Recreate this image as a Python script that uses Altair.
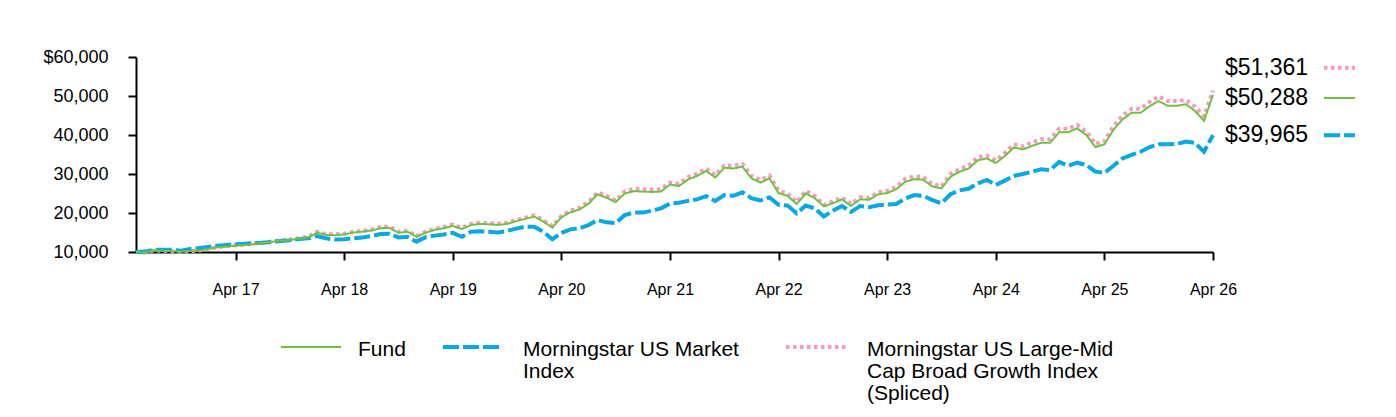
import altair as alt
import pandas as pd

# Growth of a $10,000 investment, month-end values from May 2016 to Apr 2026
fund = [
    10000, 9900, 10450, 10350, 10200, 10100, 10250, 10400, 10800, 11200,
    11400, 11600, 11800, 12000, 12300, 12600, 12900, 13100, 13400, 13700,
    14950, 14400, 14300, 14500, 15000, 15200, 15500, 16100, 16200, 14950,
    15200, 13900, 14950, 15700, 16100, 16700, 15900, 16900, 17200, 17100,
    16950, 17200, 17900, 18500, 19100, 17800, 16300, 18900, 20200, 20900,
    22400, 24800, 23900, 22800, 25000, 25600, 25500, 25400, 25500, 27300,
    26900, 28600, 29500, 30800, 29100, 31600, 31400, 31900, 28900, 27800,
    28900, 25100, 24400, 22300, 25000, 23800, 21700, 22500, 23500, 21800,
    23500, 23400, 24800, 25100, 26100, 28000, 28700, 28500, 26800, 26300,
    29300, 30600, 31400, 33500, 34000, 32800, 34600, 36800, 36300, 37200,
    38000, 38000, 40700, 40700, 41700, 40000, 36900, 37600, 41300, 44000,
    45700, 45700, 47400, 48700, 47500, 47500, 47900, 46200, 43600, 50288,
]

market = [
    10000, 10100, 10600, 10600, 10600, 10300, 10800, 11000, 11300, 11600,
    11800, 12000, 12100, 12300, 12400, 12600, 12800, 13000, 13300, 13500,
    14100, 13500, 13200, 13300, 13500, 13700, 14100, 14600, 14700, 13700,
    13900, 12650, 13800, 14200, 14500, 14900, 13900, 15200, 15300, 15200,
    15000, 15400, 16000, 16500, 16500, 15200, 13250, 14900, 15800, 16100,
    16900, 18200, 17600, 17400, 19500, 20100, 20100, 20600, 21200, 22400,
    22650, 23100, 23500, 24300, 23100, 24600, 24400, 25300, 23800, 23200,
    24000, 22100, 21900, 19900, 21900, 21200, 19100, 20600, 21800, 20300,
    21800, 21500, 22000, 22200, 22300, 23700, 24600, 24400, 23300, 22500,
    24800, 25800, 26200, 27600, 28500, 27200, 28300, 29500, 30000, 30600,
    31200, 31000, 33100, 32100, 32900, 32300, 30600, 30300, 32100, 34000,
    34900, 35700, 36900, 37600, 37600, 37700, 38300, 38000, 35700, 39965,
]

growth = [
    10000, 9850, 10400, 10300, 10150, 10050, 10200, 10400, 10800, 11250,
    11450, 11700, 11900, 12100, 12400, 12700, 13000, 13200, 13500, 13900,
    15200, 14600, 14500, 14700, 15200, 15400, 15700, 16400, 16500, 15200,
    15400, 14100, 15200, 15900, 16400, 17000, 16200, 17200, 17500, 17400,
    17300, 17500, 18200, 18800, 19400, 18200, 16600, 19300, 20600, 21300,
    22900, 25300, 24400, 23200, 25500, 26200, 26100, 26000, 26100, 27800,
    27500, 29200, 30100, 31400, 29700, 32200, 32100, 32600, 29500, 28500,
    29600, 25700, 25000, 22800, 25700, 24400, 22100, 23000, 24000, 22300,
    24000, 23900, 25300, 25700, 26700, 28700, 29400, 29200, 27400, 26800,
    30000, 31300, 32200, 34300, 34700, 33500, 35400, 37600, 37100, 38100,
    38900, 38900, 41600, 41600, 42600, 40900, 37700, 38400, 42200, 45000,
    46700, 46700, 48500, 49900, 48700, 48700, 49000, 47300, 44800, 51361,
]

series_names = [
    "Fund",
    "Morningstar US Market Index",
    "Morningstar US Large-Mid Cap Broad Growth Index (Spliced)",
]
legend_lines = [
    ["Fund"],
    ["Morningstar US Market", "Index"],
    ["Morningstar US Large-Mid", "Cap Broad Growth Index", "(Spliced)"],
]

# x-axis ticks: month index of each April month-end and its label
tick_months = [11, 23, 35, 47, 59, 71, 83, 95, 107, 119]
tick_labels = ["Apr 17", "Apr 18", "Apr 19", "Apr 20", "Apr 21",
               "Apr 22", "Apr 23", "Apr 24", "Apr 25", "Apr 26"]
y_ticks = [10000, 20000, 30000, 40000, 50000, 60000]

GREEN = "#72BF44"
BLUE = "#0AA8E0"
PINK = "#F79BBB"
FONT = "Liberation Sans"

styles = {
    series_names[0]: dict(color=GREEN, strokeWidth=2, strokeDash=[1, 0], dy=3),
    series_names[1]: dict(color=BLUE, strokeWidth=4, strokeDash=[16, 4], dy=0),
    series_names[2]: dict(color=PINK, strokeWidth=4, strokeDash=[3.5, 3.5], dy=-23),
}

rows = []
for name, vals in zip(series_names, [fund, market, growth]):
    for m, v in enumerate(vals):
        rows.append({"m": m, "series": name, "value": v})
df = pd.DataFrame(rows)
end_df = df[df["m"] == df["m"].max()].copy()

label_expr = "{" + ", ".join(f"'{m}': '{l}'" for m, l in zip(tick_months, tick_labels)) + "}[datum.value]"

x_scale = alt.Scale(domain=[0, len(fund) - 1], nice=False, zero=False)
y_scale = alt.Scale(domain=[10000, 60000], nice=False, zero=False)

x_axis = alt.Axis(
    values=tick_months, labelExpr=label_expr, title=None, grid=False,
    labelFontSize=16, labelFont=FONT, labelColor="#000",
    labelFlush=False, labelOverlap=False,
    tickSize=8, tickWidth=2, tickColor="#000",
    domainColor="#000", domainWidth=2, labelPadding=21,
)
y_axis = alt.Axis(
    values=y_ticks,
    labelExpr="datum.value == 60000 ? '$60,000' : format(datum.value, ',')",
    title=None, grid=False,
    labelFontSize=18, labelFont=FONT, labelColor="#000",
    labelFlush=False, labelOverlap=False,
    tickSize=8, tickWidth=2, tickColor="#000",
    domainColor="#000", domainWidth=2, labelPadding=20,
)

x_enc = alt.X("m:Q", scale=x_scale, axis=x_axis)
y_enc = alt.Y("value:Q", scale=y_scale, axis=y_axis)

layers = []
# draw order: growth index, market index, then fund on top
for name in [series_names[2], series_names[1], series_names[0]]:
    st = styles[name]
    layers.append(
        alt.Chart(df).transform_filter(alt.datum.series == name)
        .mark_line(color=st["color"], strokeWidth=st["strokeWidth"], strokeDash=st["strokeDash"])
        .encode(x=x_enc, y=y_enc)
    )

# closing values at the right edge with a short line sample
for name in series_names:
    st = styles[name]
    sub = alt.Chart(end_df).transform_filter(alt.datum.series == name)
    layers.append(
        sub.mark_text(align="left", baseline="middle", dx=12, dy=st["dy"],
                      fontSize=23, font=FONT, color="#000")
        .encode(x=x_enc, y=y_enc, text=alt.Text("value:Q", format="$,.0f"))
    )
    layers.append(
        sub.mark_rule(color=st["color"], strokeWidth=st["strokeWidth"],
                      strokeDash=st["strokeDash"], yOffset=st["dy"])
        .encode(y=y_enc, x=alt.value(1188), x2=alt.value(1219))
    )

# legend below the plot
one = pd.DataFrame({"k": [0]})
legend_pos = [(145, 222), (307, 387), (650, 731)]
for name, lines, (sx, tx) in zip(series_names, legend_lines, legend_pos):
    st = styles[name]
    layers.append(
        alt.Chart(one).mark_rule(color=st["color"], strokeWidth=st["strokeWidth"],
                                 strokeDash=st["strokeDash"])
        .encode(x=alt.value(sx), x2=alt.value(sx + 60), y=alt.value(290))
    )
    layers.append(
        alt.Chart(one).mark_text(align="left", baseline="alphabetic", fontSize=21,
                                 font=FONT, color="#000", lineHeight=22)
        .encode(x=alt.value(tx), y=alt.value(299), text=alt.value(lines))
    )

chart = (
    alt.layer(*layers)
    .properties(
        width=1077, height=195, autosize="none",
        padding={"left": 136, "top": 57, "right": 183, "bottom": 165},
    )
    .configure(font=FONT)
    .configure_view(strokeWidth=0, stroke=None)
    .configure_axis(grid=False, labelOverlap=False, labelFlush=False)
)

chart.save("out.html", embed_options={"renderer": "svg", "actions": False})
